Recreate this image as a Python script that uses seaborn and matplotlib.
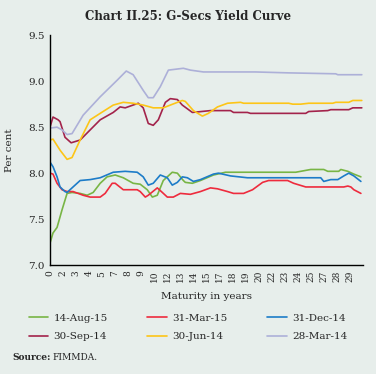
import seaborn as sns
import numpy as np
import pandas as pd
import matplotlib.pyplot as plt

sns.set_style("white")
plt.rcParams['font.family'] = ['DejaVu Serif']

# x positions are in tick units (tick i -> i-th maturity label)
tick_labels = ["0", "2", "3", "4", "5", "7", "8", "9", "10", "12", "13", "14",
               "15", "17", "18", "19", "20", "22", "23", "24", "25", "27", "28", "29", ""]

aug15_x = [0, 0.23, 0.54, 0.92, 1.31, 1.69, 2.31, 2.85, 3.31, 3.85, 4.38, 5.0, 5.62, 6.38, 6.92,
           7.46, 7.85, 8.23, 8.69, 9.38, 9.77, 10.23, 10.38, 10.92, 11.54, 12.54, 13.46, 18.85,
           19.23, 20.0, 21.0, 21.31, 22.15, 22.31, 22.85, 23.31, 23.85]
aug15_y = [7.24, 7.35, 7.41, 7.60, 7.78, 7.79, 7.78, 7.76, 7.79, 7.89, 7.96, 7.98, 7.95, 7.89, 7.88,
           7.82, 7.74, 7.76, 7.92, 8.01, 8.00, 7.92, 7.90, 7.89, 7.92, 7.98, 8.01, 8.01,
           8.02, 8.04, 8.04, 8.02, 8.02, 8.04, 8.02, 7.99, 7.96]

mar15_x = [0, 0.23, 0.54, 0.92, 1.31, 1.77, 2.54, 3.08, 3.85, 4.23, 4.77, 5.0, 5.62, 6.69, 6.92,
           7.31, 7.54, 8.23, 8.62, 9.0, 9.46, 10.0, 10.77, 11.54, 12.31, 12.85, 13.62, 14.08,
           14.85, 15.54, 16.31, 16.77, 18.23, 18.69, 19.62, 22.54, 22.85, 23.08, 23.31, 23.85]
mar15_y = [8.00, 7.99, 7.89, 7.82, 7.80, 7.80, 7.76, 7.74, 7.74, 7.78, 7.89, 7.89, 7.82, 7.82, 7.80,
           7.74, 7.76, 7.84, 7.79, 7.74, 7.74, 7.78, 7.77, 7.80, 7.84, 7.83, 7.80, 7.78,
           7.78, 7.82, 7.90, 7.92, 7.92, 7.89, 7.85, 7.85, 7.86, 7.85, 7.82, 7.78]

dec14_x = [0, 0.23, 0.54, 0.77, 1.15, 1.31, 1.69, 2.31, 3.08, 3.85, 4.85, 5.77, 6.69, 7.15, 7.54,
           7.92, 8.46, 9.0, 9.38, 9.77, 10.15, 10.54, 11.0, 11.54, 12.54, 12.92, 13.85, 15.15,
           20.77, 21.0, 21.54, 22.08, 22.54, 22.92, 23.31, 23.85]
dec14_y = [8.12, 8.07, 7.96, 7.85, 7.80, 7.79, 7.84, 7.92, 7.93, 7.95, 8.01, 8.02, 8.01, 7.96, 7.87,
           7.89, 7.98, 7.95, 7.87, 7.90, 7.96, 7.95, 7.91, 7.93, 7.99, 8.00, 7.97, 7.95,
           7.95, 7.91, 7.93, 7.93, 7.97, 8.00, 7.97, 7.91]

sep14_x = [0, 0.23, 0.62, 0.77, 1.15, 1.62, 2.31, 3.08, 3.85, 4.85, 5.38, 5.77, 6.77, 7.15, 7.54,
           7.92, 8.31, 8.85, 9.23, 9.77, 10.15, 10.92, 12.31, 13.85, 14.08, 15.15, 15.38, 16.15,
           19.62, 19.85, 21.31, 21.54, 22.92, 23.23, 23.92]
sep14_y = [8.50, 8.61, 8.58, 8.56, 8.39, 8.33, 8.36, 8.47, 8.58, 8.66, 8.72, 8.71, 8.76, 8.71, 8.54,
           8.52, 8.58, 8.77, 8.81, 8.80, 8.74, 8.66, 8.68, 8.68, 8.66, 8.66, 8.65, 8.65,
           8.65, 8.67, 8.68, 8.69, 8.69, 8.71, 8.71]

jun14_x = [0, 0.23, 0.77, 1.31, 1.69, 2.31, 3.08, 3.85, 4.85, 5.62, 6.38, 7.15, 7.92, 8.69, 9.23,
           10.15, 10.38, 11.0, 11.69, 12.15, 12.85, 13.62, 14.62, 14.85, 16.15, 18.31, 18.62,
           19.23, 19.85, 21.69, 21.92, 22.92, 23.23, 23.92]
jun14_y = [8.36, 8.37, 8.25, 8.15, 8.17, 8.36, 8.58, 8.65, 8.74, 8.77, 8.76, 8.74, 8.71, 8.71, 8.74,
           8.79, 8.78, 8.68, 8.62, 8.65, 8.72, 8.76, 8.77, 8.76, 8.76, 8.76, 8.75,
           8.75, 8.76, 8.76, 8.77, 8.77, 8.79, 8.79]

mar14_x = [0, 0.54, 0.92, 1.31, 1.69, 2.54, 3.85, 5.15, 5.85, 6.38, 7.15, 7.54, 7.92, 8.46, 9.08,
           10.23, 10.77, 11.77, 15.77, 18.31, 21.92, 22.08, 23.92]
mar14_y = [8.49, 8.50, 8.47, 8.42, 8.43, 8.63, 8.83, 9.01, 9.11, 9.07, 8.90, 8.82, 8.82, 8.94, 9.12,
           9.14, 9.12, 9.10, 9.10, 9.09, 9.08, 9.07, 9.07]

series = ["14-Aug-15", "31-Mar-15", "31-Dec-14", "30-Sep-14", "30-Jun-14", "28-Mar-14"]
colors = ["#78b545", "#ee2b3d", "#1d7cc8", "#a3234b", "#fdc517", "#adb0d8"]
xs = [aug15_x, mar15_x, dec14_x, sep14_x, jun14_x, mar14_x]
ys = [aug15_y, mar15_y, dec14_y, sep14_y, jun14_y, mar14_y]

df = pd.concat([pd.DataFrame({"x": x, "y": y, "date": s}) for x, y, s in zip(xs, ys, series)])

bg = "#e7eeeb"
fig = plt.figure(figsize=(3.76, 3.74), dpi=100, facecolor=bg)
ax = fig.add_axes([0.133, 0.291, 0.832, 0.615])
ax.set_facecolor(bg)

sns.lineplot(data=df, x="x", y="y", hue="date", hue_order=series,
             palette=dict(zip(series, colors)), linewidth=1.2, ax=ax, legend=True)

ax.set_xlim(0, 24)
ax.set_ylim(7.0, 9.5)
ax.set_xticks(range(25))
ax.set_xticklabels(tick_labels, rotation=90, fontsize=6.5)
ax.set_yticks([7.0, 7.5, 8.0, 8.5, 9.0, 9.5])
ax.set_yticklabels(["7.0", "7.5", "8.0", "8.5", "9.0", "9.5"], fontsize=7.5)
ax.tick_params(axis="both", direction="out", length=3, width=0.8, color="black", pad=1)
for side in ["top", "right"]:
    ax.spines[side].set_visible(False)
for side in ["left", "bottom"]:
    ax.spines[side].set_color("black")
    ax.spines[side].set_linewidth(1.0)

ax.set_xlabel("Maturity in years", fontsize=7.5, labelpad=7)
ax.set_ylabel("Per cent", fontsize=7.5, labelpad=10)

handles, labels = ax.get_legend_handles_labels()
ax.legend_.remove()
order = [0, 3, 1, 4, 2, 5]
fig.legend([handles[i] for i in order], [labels[i] for i in order], ncol=3,
           loc="upper left", bbox_to_anchor=(0.065, 0.172), frameon=False,
           fontsize=7.5, handlelength=1.9, columnspacing=3.8, handletextpad=0.5,
           labelspacing=0.85, borderaxespad=0)

fig.text(0.5, 0.955, "Chart II.25: G-Secs Yield Curve", ha="center", va="center",
         fontsize=8.5, fontweight="bold")
fig.text(0.032, 0.043, "Source:", ha="left", va="center", fontsize=6.5, fontweight="bold")
fig.text(0.139, 0.043, "FIMMDA.", ha="left", va="center", fontsize=6.5)

fig.savefig("out.png", dpi=100, facecolor=bg)
